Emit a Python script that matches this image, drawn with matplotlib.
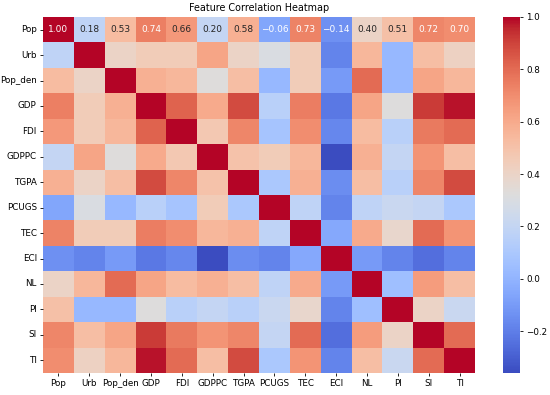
import numpy as np
import matplotlib
matplotlib.use("Agg")
import matplotlib.pyplot as plt
import seaborn as sns

features = ["Pop", "Urb", "Pop_den", "GDP", "FDI", "GDPPC", "TGPA",
            "PCUGS", "TEC", "ECI", "NL", "PI", "SI", "TI"]

# upper triangle of the correlation matrix, row by row
r_pop     = [1.00, 0.18, 0.53, 0.74, 0.66, 0.20, 0.58, -0.06, 0.73, -0.14, 0.40, 0.51, 0.72, 0.70]
r_urb     = [1.00, 0.40, 0.45, 0.45, 0.62, 0.40, 0.30, 0.45, -0.18, 0.55, 0.02, 0.52, 0.42]
r_pop_den = [1.00, 0.58, 0.55, 0.33, 0.52, 0.02, 0.45, -0.10, 0.80, 0.02, 0.62, 0.55]
r_gdp     = [1.00, 0.82, 0.60, 0.88, 0.15, 0.75, -0.22, 0.62, 0.32, 0.92, 0.98]
r_fdi     = [1.00, 0.47, 0.72, 0.08, 0.70, -0.17, 0.53, 0.15, 0.76, 0.80]
r_gdppc   = [1.00, 0.50, 0.45, 0.55, -0.36, 0.58, 0.20, 0.68, 0.52]
r_tgpa    = [1.00, 0.10, 0.58, -0.15, 0.52, 0.15, 0.72, 0.88]
r_pcugs   = [1.00, 0.18, -0.18, 0.18, 0.22, 0.20, 0.10]
r_tec     = [1.00, -0.05, 0.60, 0.38, 0.80, 0.68]
r_eci     = [1.00, -0.10, -0.18, -0.25, -0.18]
r_nl      = [1.00, 0.05, 0.65, 0.52]
r_pi      = [1.00, 0.40, 0.22]
r_si      = [1.00, 0.80]
r_ti      = [1.00]

rows = [r_pop, r_urb, r_pop_den, r_gdp, r_fdi, r_gdppc, r_tgpa,
        r_pcugs, r_tec, r_eci, r_nl, r_pi, r_si, r_ti]

n = len(features)
corr = np.zeros((n, n))
for i, r in enumerate(rows):
    corr[i, i:] = r
    corr[i:, i] = r

# only the first row carries numbers in the original
labels = np.full((n, n), "", dtype=object)
labels[0] = [f"{v:.2f}".replace("-", "\u2212") for v in corr[0]]

fig = plt.figure(figsize=(5.5, 3.95), dpi=100)
ax = fig.add_axes([43 / 550, 1 - 373 / 395, 432 / 550, 356 / 395])
cax = fig.add_axes([503 / 550, 1 - 373 / 395, 17 / 550, 356 / 395])

sns.heatmap(corr, annot=labels, fmt="", cmap="coolwarm", ax=ax, cbar_ax=cax,
            xticklabels=features, yticklabels=features,
            annot_kws={"size": 6.5})

ax.set_title("Feature Correlation Heatmap", fontsize=6.9, pad=4)
ax.tick_params(labelsize=6.3, length=2.5, width=0.6, pad=2)
plt.setp(ax.get_xticklabels(), rotation=0)
plt.setp(ax.get_yticklabels(), rotation=0)
cax.tick_params(labelsize=6.3, length=2.5, width=0.6, pad=2)

fig.savefig("out.png", dpi=100)
